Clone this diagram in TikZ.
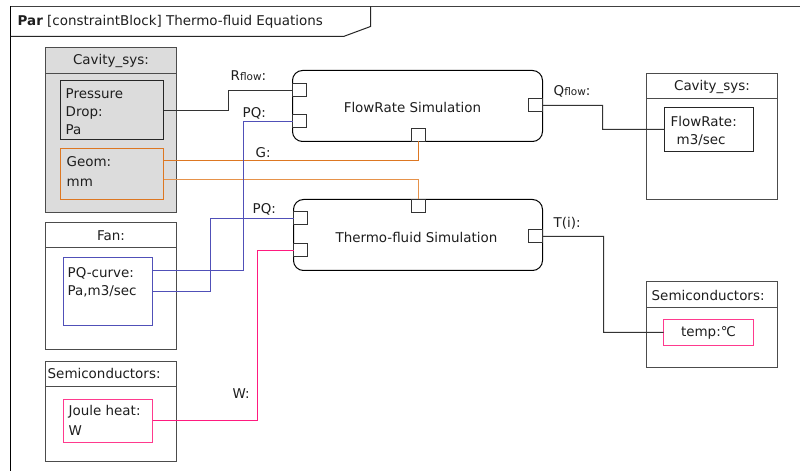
\documentclass[tikz,border=0pt]{standalone}
\usepackage{fontspec}
\setmainfont{DejaVu Sans}
\newcommand\mysmallfont{\fontsize{10.5}{12}\selectfont}
\definecolor{orangeA}{HTML}{DD7722}
\definecolor{orangeB}{HTML}{E6924A}
\definecolor{blueA}{HTML}{5050B8}
\definecolor{pinkA}{HTML}{FF1A7F}
\definecolor{pinkbox}{HTML}{FF3A8E}
\definecolor{grayfill}{HTML}{DCDCDC}
\definecolor{txtc}{HTML}{1E1E1E}
\begin{document}
\begin{tikzpicture}[x=1bp,y=-1bp,
  every node/.style={font=\fontsize{13.5}{18}\selectfont, text=txtc},
  blk/.style={draw=black!70, line width=1bp, inner sep=0pt, outer sep=0pt, anchor=north west},
  inbox/.style={draw=black!85, line width=1bp, inner sep=0pt, outer sep=0pt, anchor=north west},
  simblock/.style={draw=black, line width=1bp, rounded corners=10bp, inner sep=0pt, outer sep=0pt, anchor=north west},
  port/.style={draw=black!80, fill=white, line width=1bp, minimum width=14bp, minimum height=13bp, inner sep=0pt, outer sep=0pt},
  txt/.style={inner sep=0pt, anchor=west},
  conn/.style={draw=black!80, line width=1bp},
  orangeline/.style={draw=orangeA, line width=1bp},
  peachline/.style={draw=orangeB, line width=1bp},
  blueline/.style={draw=blueA, line width=1bp},
  pinkline/.style={draw=pinkA, line width=1bp}
]
\useasboundingbox (0,0) rectangle (800,471);
\fill[white] (0,0) rectangle (800,471);
\begin{scope}[shift={(0.5,0.5)}]
% frame
\draw[black!75, line width=1.6bp] (10,6) -- (800,6);
\draw[black, line width=1bp] (10,6) -- (10,471);
\draw[black!85, line width=1bp] (10,36) -- (343,36) -- (370,26) -- (370,6);
\node[txt] (title) at (17,21) {\textbf{Par} [constraintBlock] Thermo-fluid Equations};

% left Cavity_sys
\node[blk, fill=grayfill, minimum width=131bp, minimum height=165bp] (cavL) at (45,47) {};
\draw[black!70, line width=1bp] (45,73) -- (176,73);
\node[inner sep=0pt] (cavLt) at (110.5,60) {Cavity\_sys:};
\node[inbox, minimum width=103bp, minimum height=59bp] (pd) at (60,80) {};
\node[txt, align=left] (pdt) at (65,111) {Pressure\\Drop:\\Pa};
\node[inbox, draw=orangeA, minimum width=103bp, minimum height=51bp] (geom) at (60,148) {};
\node[txt] (geomt1) at (66,161) {Geom:};
\node[txt] (geomt2) at (66,182) {mm};

% Fan
\node[blk, minimum width=131bp, minimum height=127bp] (fan) at (45,222) {};
\draw[black!70, line width=1bp] (45,247) -- (176,247);
\node[inner sep=0pt] (fant) at (110.5,235) {Fan:};
\node[inbox, draw=blueA, minimum width=89bp, minimum height=68bp] (pq) at (63,257) {};
\node[txt] (pqt1) at (67,273) {PQ-curve:};
\node[txt] (pqt2) at (67,291) {Pa,m3/sec};

% Semiconductors left
\node[blk, minimum width=131bp, minimum height=100bp] (semL) at (45,361) {};
\draw[black!70, line width=1bp] (45,386) -- (176,386);
\node[txt] (semLt) at (47,373) {Semiconductors:};
\node[inbox, draw=pinkbox, minimum width=89bp, minimum height=43bp] (jh) at (63,399) {};
\node[txt] (jht1) at (68,411) {Joule heat:};
\node[txt] (jht2) at (68,430) {W};

% right Cavity_sys
\node[blk, minimum width=131bp, minimum height=126bp] (cavR) at (646,73) {};
\draw[black!70, line width=1bp] (646,98) -- (777,98);
\node[inner sep=0pt] (cavRt) at (711.5,86) {Cavity\_sys:};
\node[inbox, minimum width=89bp, minimum height=44bp] (frb) at (664,107) {};
\node[txt] (frbt1) at (670,121) {FlowRate:};
\node[txt] (frbt2) at (676,140) {m3/sec};

% right Semiconductors
\node[blk, minimum width=131bp, minimum height=86bp] (semR) at (646,281) {};
\draw[black!70, line width=1bp] (646,307) -- (777,307);
\node[txt] (semRt) at (651,295) {Semiconductors:};
\node[inbox, draw=pinkbox, minimum width=90bp, minimum height=26bp] (temp) at (663,319) {};
\node[inner sep=0pt] (tempt) at (708,332) {temp:℃};

% simulation blocks
\node[simblock, minimum width=250bp, minimum height=71bp] (fr) at (292,70) {};
\node[inner sep=0pt] (frt) at (412,107) {FlowRate Simulation};
\node[port] (frL1) at (299,90) {};
\node[port] (frL2) at (299,121) {};
\node[port] (frR) at (535,105) {};
\node[port] (frB) at (418,134.5) {};

\node[simblock, minimum width=249bp, minimum height=71bp] (tf) at (293,199) {};
\node[inner sep=0pt] (tft) at (416,237) {Thermo-fluid Simulation};
\node[port] (tfT) at (418,205.5) {};
\node[port] (tfL1) at (300,218) {};
\node[port] (tfL2) at (300,250) {};
\node[port] (tfR) at (535,236) {};

% connectors
\draw[conn] (pd.east |- 0,110) -| (228,90) -- (frL1.west);
\draw[orangeline] (frB.south) |- (geom.east |- 0,160);
\draw[peachline] (tfT.north) |- (geom.east |- 0,179);
\draw[blueline] (pq.east |- 0,270) -| (243,121) -- (frL2.west);
\draw[blueline] (pq.east |- 0,291) -| (210,218) -- (tfL1.west);
\draw[pinkline] (jh.east |- 0,420) -| (257,250) -- (tfL2.west);
\draw[conn] (frR.east) -| (602,129) -- (frb.west);
\draw[conn] (tfR.east) -| (603,332) -- (temp.west);

% connector labels
\node[txt] (lrflow) at (230,75) {R{\mysmallfont flow}:};
\node[txt] (lpq1) at (242,113) {PQ:};
\node[txt] (lg) at (255,152) {G:};
\node[txt] (lpq2) at (252,209) {PQ:};
\node[txt] (lq) at (553,91) {Q{\mysmallfont flow}:};
\node[txt] (lt) at (553,223) {T(i):};
\node[txt] (lw) at (232,393) {W:};
\end{scope}
\end{tikzpicture}
\end{document}
